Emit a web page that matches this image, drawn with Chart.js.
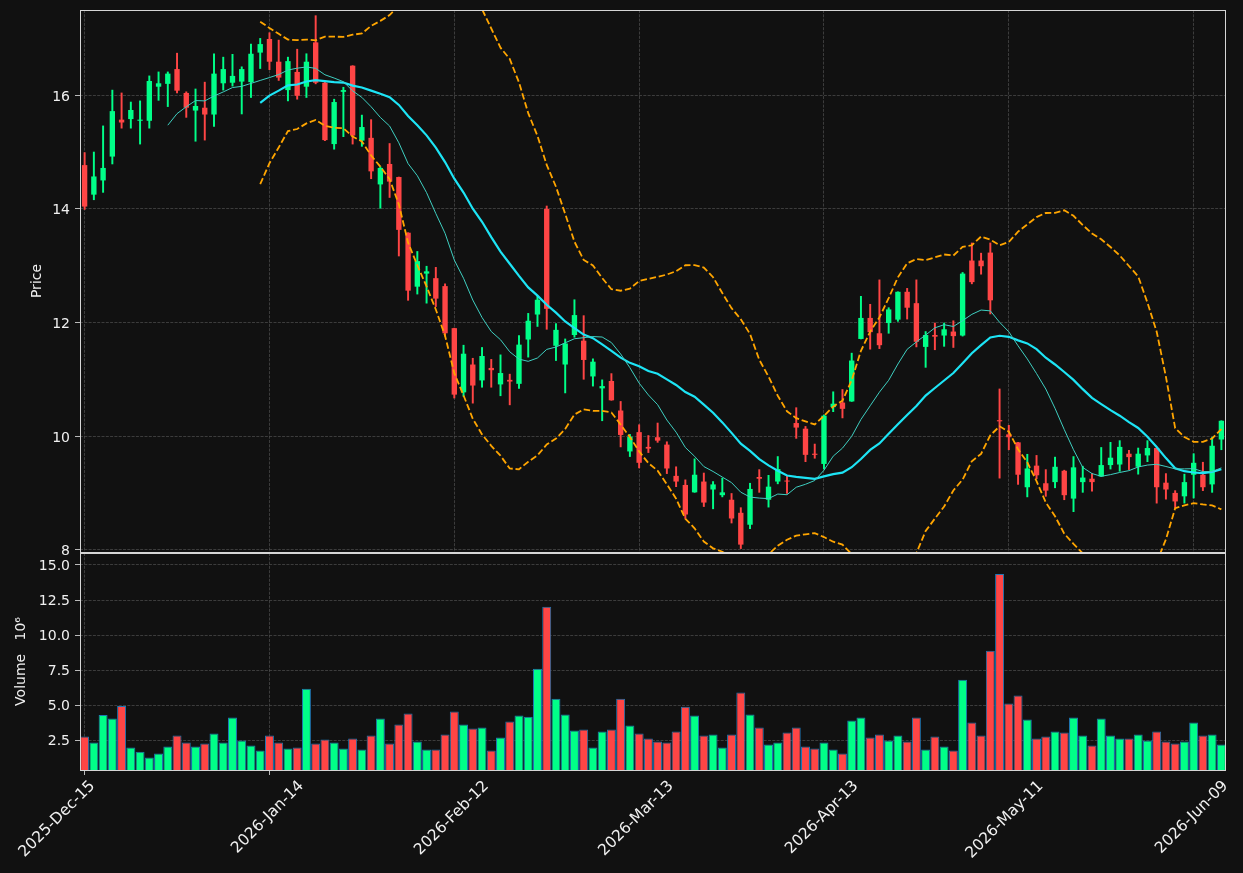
<!DOCTYPE html>
<html lang="en">
<head>
<meta charset="UTF-8">
<title>Candles</title>
<script src="https://cdn.jsdelivr.net/npm/chart.js@4.4.1/dist/chart.umd.min.js"></script>
<style>
  body { margin: 0; background: #111111; }
  #wrap { position: relative; width: 1243px; height: 873px; overflow: hidden; }
  .panel { position: absolute; left: 0; }
</style>
</head>
<body>
<div id="wrap">
  <canvas id="volChart" class="panel" style="top:553px" width="1243" height="320"></canvas>
  <canvas id="priceChart" class="panel" style="top:0" width="1243" height="566"></canvas>
</div>
<script>
// daily bars, one per trading day (ticks every 20 bars)
const tickLabels = ['2025-Dec-15', '2026-Jan-14', '2026-Feb-12', '2026-Mar-13', '2026-Apr-13', '2026-May-11', '2026-Jun-09'];
const tickEvery = 20;

const opens = [14.77,14.25,14.50,14.92,15.57,15.58,15.55,15.55,16.15,16.20,
  16.46,16.04,15.73,15.78,15.66,16.21,16.22,16.24,16.23,16.75,
  16.99,16.59,16.09,16.41,16.15,16.93,16.22,15.14,16.06,16.52,
  15.20,15.25,14.43,14.79,14.56,13.58,12.63,12.86,12.78,12.64,
  11.90,10.77,11.26,10.98,11.20,10.91,10.99,10.92,11.70,12.14,
  14.00,11.59,11.26,11.78,11.68,11.05,10.84,10.97,10.45,9.73,
  10.07,9.81,9.98,9.85,9.30,9.14,9.01,9.20,9.06,8.96,
  8.88,8.65,8.44,9.28,8.88,9.20,9.21,10.23,10.13,9.69,
  9.51,10.51,10.59,10.61,11.71,12.08,11.81,11.99,12.05,12.54,
  12.34,11.57,11.78,11.77,11.84,11.77,13.09,13.09,13.23,10.28,
  10.03,9.89,9.10,9.48,9.17,9.19,9.39,8.90,9.19,9.25,
  9.29,9.49,9.50,9.69,9.46,9.66,9.79,9.18,9.00,8.94,
  9.32,9.32,9.15,9.94];
const highs = [14.99,15.00,15.46,16.09,16.04,15.88,15.90,16.34,16.41,16.41,
  16.74,16.06,16.11,16.23,16.73,16.67,16.72,16.50,16.90,17.00,
  17.10,16.97,16.67,16.81,16.73,17.40,16.24,15.93,16.14,16.52,
  15.65,15.57,14.74,15.15,14.56,13.58,13.25,12.99,12.97,12.68,
  11.90,11.60,11.37,11.56,11.35,11.43,11.09,11.77,12.16,12.46,
  14.05,11.98,11.71,12.40,12.12,11.36,10.99,11.10,10.61,10.03,
  10.20,10.01,10.23,9.90,9.46,9.23,9.60,9.35,9.20,9.26,
  8.99,8.74,9.17,9.41,9.31,9.64,9.31,10.50,10.17,9.86,
  10.37,10.78,10.82,11.46,12.46,12.32,12.75,12.26,12.54,12.60,
  12.75,11.84,11.99,11.99,12.03,12.88,13.40,13.22,13.40,10.83,
  10.19,9.89,9.68,9.66,9.41,9.63,9.40,9.64,9.47,9.34,
  9.80,9.89,9.92,9.75,9.79,9.92,9.79,9.34,9.04,9.33,
  9.69,9.54,9.98,10.27];
const lows = [13.99,14.16,14.29,14.79,15.42,15.42,15.14,15.42,15.91,15.80,
  16.04,15.61,15.19,15.21,15.45,16.09,16.16,15.67,15.96,16.47,
  16.45,16.26,15.90,15.93,15.96,16.20,15.20,15.05,15.27,15.14,
  15.10,14.53,14.01,14.20,13.17,12.39,12.50,12.34,12.28,11.76,
  10.67,10.70,10.58,10.86,10.86,10.71,10.55,10.84,11.39,11.93,
  11.88,11.33,10.76,11.74,11.00,10.88,10.27,10.63,9.81,9.64,
  9.44,9.71,9.89,9.34,9.11,8.55,9.01,8.76,8.72,8.93,
  8.47,8.02,8.37,9.01,8.75,9.16,8.99,9.96,9.55,9.61,
  9.42,10.43,10.32,10.61,11.71,11.53,11.54,11.81,12.02,12.06,
  11.57,11.21,11.52,11.58,11.56,11.76,12.68,12.85,12.15,9.26,
  9.76,9.15,8.93,9.25,8.94,9.09,8.88,8.67,9.01,9.03,
  9.29,9.42,9.38,9.41,9.33,9.55,8.82,8.89,8.73,8.82,
  8.91,9.04,9.01,9.76];
const closes = [14.04,14.57,14.72,15.72,15.52,15.74,15.57,16.25,16.21,16.38,
  16.08,15.78,15.81,15.66,16.38,16.46,16.34,16.46,16.73,16.90,
  16.59,16.31,16.60,15.99,16.59,16.22,15.21,15.88,16.09,15.29,
  15.44,14.66,14.72,14.48,13.63,12.56,13.08,12.90,12.42,11.81,
  10.73,11.45,10.89,11.41,11.16,11.11,10.96,11.61,12.03,12.40,
  12.24,11.87,11.63,12.13,11.34,11.31,10.88,10.63,10.02,9.99,
  9.53,9.78,9.92,9.43,9.20,8.62,9.32,8.83,9.15,9.01,
  8.55,8.09,9.07,9.25,9.11,9.42,9.20,10.15,9.67,9.67,
  10.36,10.57,10.48,11.33,12.08,11.83,11.60,12.23,12.54,12.26,
  11.66,11.78,11.75,11.88,11.76,12.86,12.71,12.99,12.39,10.26,
  9.98,9.32,9.43,9.31,9.04,9.46,8.96,9.45,9.27,9.19,
  9.49,9.62,9.81,9.63,9.69,9.79,9.10,9.06,8.85,9.19,
  9.53,9.10,9.83,10.27];
// volume in millions
const volumes = [2.78,2.36,4.32,4.06,4.96,2.00,1.70,1.29,1.58,2.07,
  2.86,2.36,2.07,2.29,3.00,2.36,4.13,2.50,2.14,1.79,
  2.86,2.36,1.93,2.00,6.19,2.29,2.57,2.36,1.93,2.64,
  1.86,2.86,4.06,2.29,3.64,4.42,2.43,1.86,1.86,2.93,
  4.56,3.64,3.35,3.42,1.79,2.71,3.85,4.28,4.20,7.61,
  12.02,5.48,4.35,3.21,3.28,2.00,3.14,3.28,5.48,3.57,
  3.00,2.64,2.43,2.36,3.14,4.91,4.28,2.86,2.93,2.00,
  2.93,5.91,4.35,3.42,2.21,2.36,3.07,3.42,2.07,1.93,
  2.36,1.86,1.58,3.92,4.13,2.71,2.93,2.50,2.86,2.43,
  4.13,1.86,2.78,2.07,1.79,6.83,3.78,2.86,8.89,14.36,
  5.13,5.70,3.99,2.64,2.78,3.14,3.07,4.13,2.86,2.14,
  4.06,2.86,2.64,2.64,2.93,2.50,3.14,2.43,2.29,2.43,
  3.78,2.86,2.93,2.21];

const priceTicks = [8, 10, 12, 14, 16];
const volumeTicks = [2.5, 5, 7.5, 10, 12.5, 15];

// indicators: 10/20 day simple moving averages, 20 day bollinger bands (2 sd)
function rollingMean(arr, n) {
  return arr.map((_, i) => i < n - 1 ? null : arr.slice(i - n + 1, i + 1).reduce((a, b) => a + b, 0) / n);
}
function rollingStd(arr, n) {
  const m = rollingMean(arr, n);
  return arr.map((_, i) => {
    if (i < n - 1) return null;
    const w = arr.slice(i - n + 1, i + 1);
    return Math.sqrt(w.reduce((a, b) => a + (b - m[i]) ** 2, 0) / n);
  });
}
const ma10 = rollingMean(closes, 10);
const ma20 = rollingMean(closes, 20);
const sd20 = rollingStd(closes, 20);
const bbUpper = ma20.map((m, i) => m === null ? null : m + 2 * sd20[i]);
const bbLower = ma20.map((m, i) => m === null ? null : m - 2 * sd20[i]);

const UP = '#00ff88', DOWN = '#ff4545';
const GRID = 'rgba(78,78,78,0.9)';
const TEXT = '#f0f0f0';
const categories = closes.map((_, i) => i);
const candleColors = closes.map((c, i) => c >= opens[i] ? UP : DOWN);

Chart.defaults.font.family = "'DejaVu Sans', sans-serif";
Chart.defaults.font.size = 14;
Chart.defaults.color = TEXT;
Chart.defaults.animation = false;

const frame = {
  id: 'frame',
  afterDraw(chart) {
    const {ctx, chartArea: a} = chart;
    ctx.save();
    ctx.strokeStyle = '#d6d6d6';
    ctx.lineWidth = 1;
    ctx.strokeRect(a.left + 0.5, a.top + 0.5, a.right - a.left - 1, a.bottom - a.top);
    ctx.restore();
  }
};
// the first date label has its own axis; put its box on top of the main date axis
const alignDateAxes = {
  id: 'alignDateAxes',
  afterLayout(chart) {
    const main = chart.scales.x, first = chart.scales.xFirst;
    if (!main || !first) return;
    first.top = main.top;
    first.bottom = main.bottom;
    first.height = main.height;
  }
};

function xGrid() {
  return {
    offset: false,
    lineWidth: 0.8,
    color: c => c.index % tickEvery === 0 ? GRID : 'transparent',
    tickColor: c => c.index % tickEvery === 0 ? '#e6e6e6' : 'transparent',
    tickLength: 5,
    tickBorderDash: []
  };
}
function yAxis(min, max, ticks, title, titlePad, fmt, shift) {
  return {
    min: min, max: max,
    afterBuildTicks: s => { s.ticks = ticks.map(v => ({value: v})); },
    afterFit: s => { s.width = 80; s.paddingTop = 0; s.paddingBottom = 0; },
    grid: { color: GRID, lineWidth: 0.8, tickColor: '#e6e6e6', tickLength: 5, tickBorderDash: [] },
    border: { display: false, dash: [3, 1.3] },
    ticks: { padding: 5, color: TEXT, callback: fmt, labelOffset: shift },
    title: { display: true, text: title, color: TEXT, padding: {top: titlePad, bottom: 0} }
  };
}
// date labels under the volume panel, rotated 45 degrees
function dateAxis(which, shift, height) {
  return {
    type: 'category',
    position: 'bottom',
    offset: true,
    grid: xGrid(),
    border: { display: false, dash: [3, 1.3] },
    ticks: {
      autoSkip: false, minRotation: 45, maxRotation: 45, padding: 2, color: TEXT,
      font: { size: 15.5 }, labelOffset: shift,
      callback: (v, i) => {
        const first = i === 0;
        if (i % tickEvery !== 0 || first !== (which === 'first')) return null;
        return tickLabels[i / tickEvery];
      }
    },
    afterFit: s => { s.height = height; s.paddingLeft = 0; s.paddingRight = 0; }
  };
}

const bandStyle = { type: 'line', borderColor: '#ffa500', borderWidth: 1.8, borderDash: [6.5, 2.8], pointRadius: 0, order: 0 };

new Chart(document.getElementById('priceChart'), {
  type: 'bar',
  data: {
    labels: categories,
    datasets: [
      { type: 'line', data: ma10, borderColor: '#3fcfc1', borderWidth: 1, pointRadius: 0, order: 0 },
      { type: 'line', data: ma20, borderColor: '#1de4f5', borderWidth: 2.2, pointRadius: 0, order: 0 },
      Object.assign({ data: bbUpper }, bandStyle),
      Object.assign({ data: bbLower }, bandStyle),
      { data: lows.map((l, i) => [l, highs[i]]), backgroundColor: candleColors, barThickness: 1.3, grouped: false, order: 2 },
      { data: opens.map((o, i) => [o, closes[i]]), backgroundColor: candleColors, categoryPercentage: 1, barPercentage: 0.58, minBarLength: 1, grouped: false, order: 1 }
    ]
  },
  options: {
    responsive: false,
    devicePixelRatio: 1,
    layout: { padding: {left: 0, top: 10, right: 17, bottom: 14} },
    plugins: { legend: {display: false}, tooltip: {enabled: false} },
    scales: {
      x: {
        offset: true,
        grid: Object.assign(xGrid(), {drawTicks: false}),
        border: { display: false, dash: [3, 1.3] },
        ticks: { display: false, autoSkip: false },
        afterFit: s => { s.height = 0; s.paddingLeft = 0; s.paddingRight = 0; }
      },
      y: yAxis(7.96, 17.5, priceTicks, 'Price', 28.5, v => String(v), 2)
    }
  },
  plugins: [frame]
});

new Chart(document.getElementById('volChart'), {
  type: 'bar',
  data: {
    labels: categories,
    datasets: [{
      data: volumes,
      backgroundColor: candleColors,
      borderColor: '#1f77b4',
      borderWidth: 1,
      categoryPercentage: 0.97,
      barPercentage: 1
    }]
  },
  options: {
    responsive: false,
    devicePixelRatio: 1,
    layout: { padding: {left: 0, top: 0, right: 17, bottom: 0} },
    plugins: { legend: {display: false}, tooltip: {enabled: false} },
    scales: {
      x: dateAxis('rest', 32, 103),
      xFirst: dateAxis('first', 8, 0),
      y: yAxis(0.4, 15.85, volumeTicks, 'Volume   10\u2076', 12.5, v => v.toFixed(1), 1)
    }
  },
  plugins: [frame, alignDateAxes]
});
</script>
</body>
</html>
